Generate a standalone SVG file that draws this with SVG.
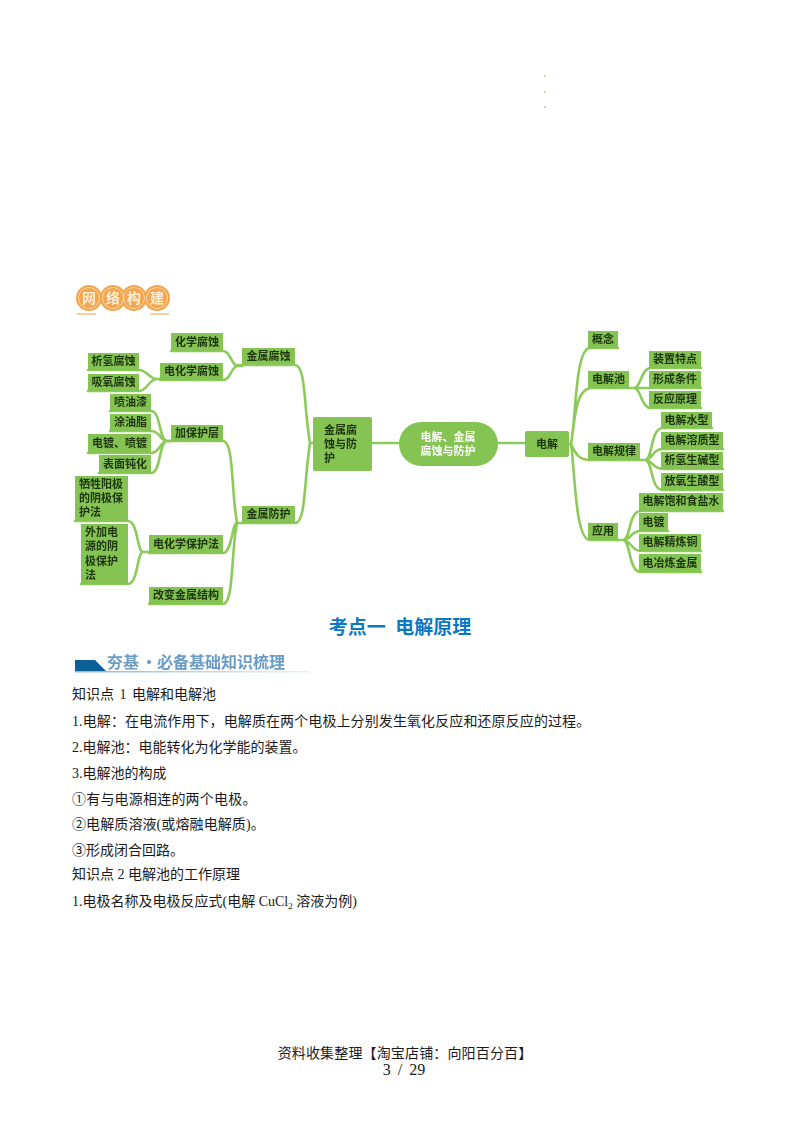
<svg xmlns="http://www.w3.org/2000/svg" width="800" height="1132" viewBox="0 0 800 1132">
<style>
.n{fill:#85c353}
.t{font:bold 11px "Noto Sans CJK SC","Noto Sans",sans-serif;fill:#1d3510}
.w{font:bold 11px "Noto Sans CJK SC","Noto Sans",sans-serif;fill:#fff}
.c{fill:none;stroke:#8ccb5a;stroke-width:2.6;stroke-linecap:round}
.b{font:14px "Liberation Serif","Noto Sans CJK SC",serif;fill:#1a1a1a}
.o{fill:#f2a650}
.i{fill:none;stroke:#fbd6a5;stroke-width:1}
.h{font:bold 14px "Noto Sans CJK SC",sans-serif;fill:#fdeed8}
.d{fill:#cfc8a0}
.m{text-anchor:middle}
</style>
<defs>
<filter id="soft" x="-5%" y="-5%" width="110%" height="110%"><feGaussianBlur stdDeviation="0.35"/></filter>
<linearGradient id="fade" x1="0" x2="1" y1="0" y2="0"><stop offset="0" stop-color="#8fb8d6"/><stop offset="1" stop-color="#e8f1f6"/></linearGradient>
</defs>
<rect width="800" height="1132" fill="#fff"/>
<rect class="d" x="544" y="75" width="1.5" height="2"/>
<rect class="d" x="544" y="91" width="1.5" height="2"/>
<rect class="d" x="544" y="106" width="1.5" height="2"/>

<g id="badge" filter="url(#soft)">
<circle class="o" cx="89" cy="298" r="13"/><circle class="o" cx="113" cy="298" r="13"/><circle class="o" cx="134" cy="298" r="13"/><circle class="o" cx="157" cy="298" r="13"/>
<circle class="i" cx="89" cy="298" r="10.5"/><circle class="i" cx="113" cy="298" r="10.5"/><circle class="i" cx="134" cy="298" r="10.5"/><circle class="i" cx="157" cy="298" r="10.5"/>
<text class="h m" x="89" y="303">网</text><text class="h m" x="113" y="303">络</text><text class="h m" x="134" y="303">构</text><text class="h m" x="157" y="303">建</text>
<rect x="77" y="313" width="19" height="2" fill="#f3cfa4"/><rect x="150" y="313" width="19" height="2" fill="#f3cfa4"/>
</g>

<g filter="url(#soft)">
<g id="connectors">
<path class="c" d="M171 351H223C231 351 231 366 238 366H242M160 380H223C231 380 231 366 238 366"/>
<path class="c" d="M88 370H139C147 370 149 379 157 379H160M88 391H139C147 391 149 379 157 379"/>
<path class="c" d="M238 365H295C306 365 304 410 310 443H313M237 523H295C306 523 304 480 310 443"/>
<path class="c" d="M372 443H399M498 443H525"/>
<path class="c" d="M110 411H151C161 411 159 441 167 441H171M110 431H151C160 431 160 441 167 441M88 453H151C160 453 160 441 167 441M99 473H151C161 473 159 441 167 441"/>
<path class="c" d="M167 441H223C234 441 231 490 237 523M149 553H223C232 553 232 523 237 523M149 604H223C234 604 231 550 237 523"/>
<path class="c" d="M75 521H128C138 521 137 552 143 552H149M81 584H128C138 584 137 552 143 552"/>
<path class="c" d="M569 444H571C576 420 575 348 590 348H618M571 444C575 420 575 388 592 388H629M571 444C574 450 577 460 590 460H640M571 444C575 470 575 540 590 540H618"/>
<path class="c" d="M629 388H634C641 388 641 368 651 368H701M634 388H701M634 388C641 388 641 408 651 408H701"/>
<path class="c" d="M640 460H645C653 460 650 428 663 428H712M645 460C653 460 652 449 663 449H723M645 460C653 460 652 469 663 469H723M645 460C653 460 650 490 663 490H723"/>
<path class="c" d="M618 540H623C631 540 628 511 641 511H723M623 540C631 540 630 531 641 531H668M623 540C631 540 631 551 641 551H701M623 540C631 540 628 572 641 572H701"/>
</g>

<g id="n-center"><rect class="n" x="399" y="422" width="99" height="44" rx="22"/><text class="w m" x="448" y="441">电解、金属</text><text class="w m" x="448" y="455">腐蚀与防护</text></g>
<g id="n-protect"><rect class="n" x="313" y="417" width="59" height="54" rx="2"/><text class="t" x="324" y="434">金属腐</text><text class="t" x="324" y="448">蚀与防</text><text class="t" x="324" y="462">护</text></g>
<g id="n-corrosion"><rect class="n" x="242" y="348" width="53" height="16"/><text class="t m" x="268.500" y="360">金属腐蚀</text></g>
<g id="n-guard"><rect class="n" x="242" y="506" width="53" height="17"/><text class="t m" x="268.500" y="518">金属防护</text></g>
<g id="n-chem"><rect class="n" x="171" y="333" width="52" height="18"/><text class="t m" x="197" y="346">化学腐蚀</text></g>
<g id="n-echem"><rect class="n" x="160" y="363" width="63" height="17"/><text class="t m" x="191.500" y="375">电化学腐蚀</text></g>
<g id="n-h"><rect class="n" x="88" y="353" width="51" height="17"/><text class="t m" x="113.500" y="365">析氢腐蚀</text></g>
<g id="n-o"><rect class="n" x="88" y="374" width="51" height="17"/><text class="t m" x="113.500" y="386">吸氧腐蚀</text></g>
<g id="n-paint"><rect class="n" x="110" y="394" width="41" height="17"/><text class="t m" x="130.500" y="406">喷油漆</text></g>
<g id="n-grease"><rect class="n" x="110" y="414" width="41" height="17"/><text class="t m" x="130.500" y="426">涂油脂</text></g>
<g id="n-plate"><rect class="n" x="88" y="434" width="63" height="19"/><text class="t m" x="119.500" y="447">电镀、喷镀</text></g>
<g id="n-passive"><rect class="n" x="99" y="455" width="52" height="18"/><text class="t m" x="125" y="468">表面钝化</text></g>
<g id="n-layer"><rect class="n" x="171" y="425" width="52" height="16"/><text class="t m" x="197" y="437">加保护层</text></g>
<g id="n-anode"><rect class="n" x="75" y="476" width="53" height="45"/><text class="t" x="79" y="488">牺牲阳极</text><text class="t" x="79" y="502">的阴极保</text><text class="t" x="79" y="516">护法</text></g>
<g id="n-current"><rect class="n" x="81" y="524" width="47" height="60"/><text class="t" x="85" y="536">外加电</text><text class="t" x="85" y="550">源的阴</text><text class="t" x="85" y="565">极保护</text><text class="t" x="85" y="579">法</text></g>
<g id="n-eprotect"><rect class="n" x="149" y="535" width="74" height="18"/><text class="t m" x="186" y="548">电化学保护法</text></g>
<g id="n-struct"><rect class="n" x="149" y="587" width="74" height="17"/><text class="t m" x="186" y="599">改变金属结构</text></g>

<g id="n-electrolysis"><rect class="n" x="525" y="431" width="44" height="26" rx="2"/><text class="t m" x="547" y="448">电解</text></g>
<g id="n-concept"><rect class="n" x="588" y="331" width="30" height="17"/><text class="t m" x="603" y="343">概念</text></g>
<g id="n-cell"><rect class="n" x="588" y="371" width="41" height="17"/><text class="t m" x="608.500" y="383">电解池</text></g>
<g id="n-law"><rect class="n" x="588" y="443" width="52" height="17"/><text class="t m" x="614" y="455">电解规律</text></g>
<g id="n-app"><rect class="n" x="588" y="523" width="30" height="17"/><text class="t m" x="603" y="535">应用</text></g>
<g id="n-device"><rect class="n" x="649" y="351" width="52" height="17"/><text class="t m" x="675" y="363">装置特点</text></g>
<g id="n-cond"><rect class="n" x="649" y="371" width="52" height="17"/><text class="t m" x="675" y="383">形成条件</text></g>
<g id="n-react"><rect class="n" x="649" y="391" width="52" height="17"/><text class="t m" x="675" y="403">反应原理</text></g>
<g id="n-water"><rect class="n" x="661" y="412" width="51" height="16"/><text class="t m" x="686.500" y="424">电解水型</text></g>
<g id="n-solute"><rect class="n" x="661" y="432" width="62" height="17"/><text class="t m" x="692" y="444">电解溶质型</text></g>
<g id="n-base"><rect class="n" x="661" y="452" width="62" height="17"/><text class="t m" x="692" y="464">析氢生碱型</text></g>
<g id="n-acid"><rect class="n" x="661" y="473" width="62" height="17"/><text class="t m" x="692" y="485">放氧生酸型</text></g>
<g id="n-brine"><rect class="n" x="639" y="493" width="84" height="18"/><text class="t m" x="681" y="505">电解饱和食盐水</text></g>
<g id="n-plating"><rect class="n" x="639" y="513" width="29" height="18"/><text class="t m" x="653.500" y="526">电镀</text></g>
<g id="n-refine"><rect class="n" x="639" y="534" width="62" height="17"/><text class="t m" x="670" y="546">电解精炼铜</text></g>
<g id="n-smelt"><rect class="n" x="639" y="554" width="62" height="18"/><text class="t m" x="670" y="567">电冶炼金属</text></g>
</g>

<text class="m" x="400" y="634" style="font:bold 19px 'Noto Sans CJK SC',sans-serif;fill:#0b78c4;word-spacing:5px">考点一 电解原理</text>
<g id="banner" filter="url(#soft)">
<polygon points="75,660 95,660 106,671 75,671" fill="#0f5f97"/>
<rect x="75" y="671" width="235" height="1.500" fill="url(#fade)"/>
<text y="668" style="font:bold 16px 'Noto Sans CJK SC',sans-serif;fill:#6a9cc6"><tspan x="107">夯基</tspan><tspan x="141">·</tspan><tspan x="157">必备基础知识梳理</tspan></text>
</g>

<g id="body">
<text class="b" x="72" y="699" style="word-spacing:2px">知识点 1  电解和电解池</text>
<text class="b" x="72" y="726" style="letter-spacing:.1px">1.电解：在电流作用下，电解质在两个电极上分别发生氧化反应和还原反应的过程。</text>
<text class="b" x="72" y="752">2.电解池：电能转化为化学能的装置。</text>
<text class="b" x="72" y="778">3.电解池的构成</text>
<text class="b" x="72" y="804" style="letter-spacing:.2px">①有与电源相连的两个电极。</text>
<text class="b" x="72" y="829" style="letter-spacing:.1px">②电解质溶液(或熔融电解质)。</text>
<text class="b" x="72" y="855">③形成闭合回路。</text>
<text class="b" x="72" y="879">知识点 2  电解池的工作原理</text>
<text class="b" x="72" y="906">1.电极名称及电极反应式(电解 CuCl<tspan dy="3" font-size="9">2</tspan><tspan dy="-3"> 溶液为例)</tspan></text>
</g>
<g id="footer">
<text class="b m" x="405" y="1058" style="letter-spacing:.15px">资料收集整理【淘宝店铺：向阳百分百】</text>
<text class="b m" x="404" y="1075" style="font-size:16px;word-spacing:3px">3 / 29</text>
</g>
</svg>
